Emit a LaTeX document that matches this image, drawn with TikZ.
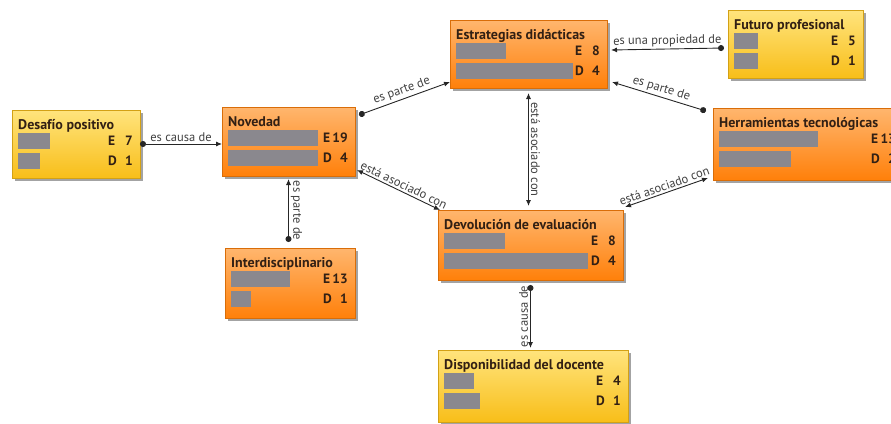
\documentclass[tikz,border=0pt]{standalone}
\usepackage{fontspec}
\setmainfont{PT Sans}
\usepackage{tikz}
\usetikzlibrary{arrows.meta}
\usetikzlibrary{shadows}
\usetikzlibrary{calc}
\definecolor{orangetop}{RGB}{255,182,110}
\definecolor{orangebot}{RGB}{255,128,10}
\definecolor{yellowtop}{RGB}{255,228,125}
\definecolor{yellowbot}{RGB}{248,190,25}
\definecolor{bargray}{RGB}{138,136,142}
\definecolor{ink}{RGB}{50,32,20}
\tikzset{
box/.style = {rectangle, inner sep=0pt, outer sep=0pt,
              draw=#1bot!85!black, line width=0.3pt,
              top color=#1top, bottom color=#1bot,
              drop shadow={shadow xshift=3pt, shadow yshift=-3pt,
                           fill=black!45, opacity=0.8}},
bar/.style = {rectangle, fill=bargray, inner sep=0pt, outer sep=0pt,
              minimum height=16pt},
title/.style = {font=\bfseries\fontsize{14}{16}\selectfont, text=ink,
                inner sep=0pt},
count/.style = {font=\bfseries\fontsize{13.5}{16}\selectfont, text=ink,
                inner sep=0pt},
rel/.style = {draw=black!85, line width=0.9pt},
cause/.style = {rel, arrows={Circle[length=6pt]-Latex[length=6pt,width=5pt]}},
back/.style = {rel, arrows={Latex[length=6pt,width=5pt]-Circle[length=6pt]}},
assoc/.style = {rel, arrows={Latex[length=6pt,width=5pt]-Latex[length=6pt,width=5pt]}},
lab/.style = {font=\fontsize{12.5}{14}\selectfont, text=black!75,
              sloped, above, inner sep=2pt}
}
% concept box: name, top left, width, height, colour, title
\newcommand{\concept}[6]{%
  \node[box=#5, minimum width=#3pt, minimum height=#4pt, anchor=north west] (#1) at (#2) {};
  \node[title, anchor=base west] (#1-t) at ([shift={(6,19)}]#1.north west) {#6};
}
% bars and counts: name, bar widths, E, D
\newcommand{\bars}[5]{%
  \node[bar, minimum width=#2pt, anchor=north west] (#1-b1) at ([shift={(6,23)}]#1.north west) {};
  \node[bar, minimum width=#3pt, anchor=north west] (#1-b2) at ([shift={(6,43)}]#1.north west) {};
  \node[count, anchor=west] (#1-e) at ($(#1.east |- #1-b1)+(-32,0)$) {E};
  \node[count, anchor=east] (#1-ev) at ($(#1.east |- #1-b1)+(-7,0)$) {#4};
  \node[count, anchor=west] (#1-d) at ($(#1.east |- #1-b2)+(-32,0)$) {D};
  \node[count, anchor=east] (#1-dv) at ($(#1.east |- #1-b2)+(-7,0)$) {#5};
}

\begin{document}
\begin{tikzpicture}[x=1pt, y=-1pt]
    \useasboundingbox (0,0) rectangle (891,423);
    \clip (0,0) rectangle (891,423);

    \concept{des}{12,110}{128}{68}{yellow}{Desafío positivo}
    \bars{des}{32}{22}{7}{1}
    \concept{nov}{222,107}{133}{69}{orange}{Novedad}
    \bars{nov}{90}{90}{19}{4}
    \concept{est}{450,20}{157}{68}{orange}{Estrategias didácticas}
    \bars{est}{50}{117}{8}{4}
    \concept{fut}{728,10}{135}{68}{yellow}{Futuro profesional}
    \bars{fut}{24}{24}{5}{1}
    \concept{her}{713,108}{190}{72}{orange}{Herramientas tecnológicas}
    \bars{her}{99}{72}{13}{2}
    \concept{dev}{438,210}{185}{70}{orange}{Devolución de evaluación}
    \bars{dev}{61}{144}{8}{4}
    \concept{int}{225,248}{130}{70}{orange}{Interdisciplinario}
    \bars{int}{59}{20}{13}{1}
    \concept{dis}{438,350}{190}{72}{yellow}{Disponibilidad del docente}
    \bars{dis}{30}{36}{4}{1}

    \draw[cause] (des.east) -- (des.east -| nov.west) node[lab, midway] {es causa de};
    \draw[cause] ($(nov.north east)+(4,8)$) -- ($(est.south west)+(0,-6)$) node[lab, midway] {es parte de};
    \draw[assoc] ($(nov.south east)+(2,-6)$) -- ($(dev.north west)+(2,0)$) node[lab, pos=0.53] {está asociado con};
    \draw[back] ($(nov.south)+(0,3)$) -- ($(nov.south |- int.north)+(0,-6)$) node[lab, midway] {es parte de};
    \draw[assoc] ($(est.south)+(0,5)$) -- ($(est.south |- dev.north)+(0,-4)$) node[lab, midway] {está asociado con};
    \draw[back] ($(est.east)+(4,-4)$) -- ($(fut.west)+(-4,4)$) node[lab, midway] {es una propiedad de};
    \draw[back] ($(est.south east)+(5,-6)$) -- ($(her.north west)+(-7,3)$) node[lab, midway] {es parte de};
    \draw[assoc] ($(dev.north east)+(2,-3)$) -- ($(her.south west)+(-5,-2)$) node[lab, midway] {está asociado con};
    \draw[back] ($(dev.south |- dis.north)+(0,-2)$) -- ($(dev.south)+(0,5)$) node[lab, midway] {es causa de};
\end{tikzpicture}
\end{document}
